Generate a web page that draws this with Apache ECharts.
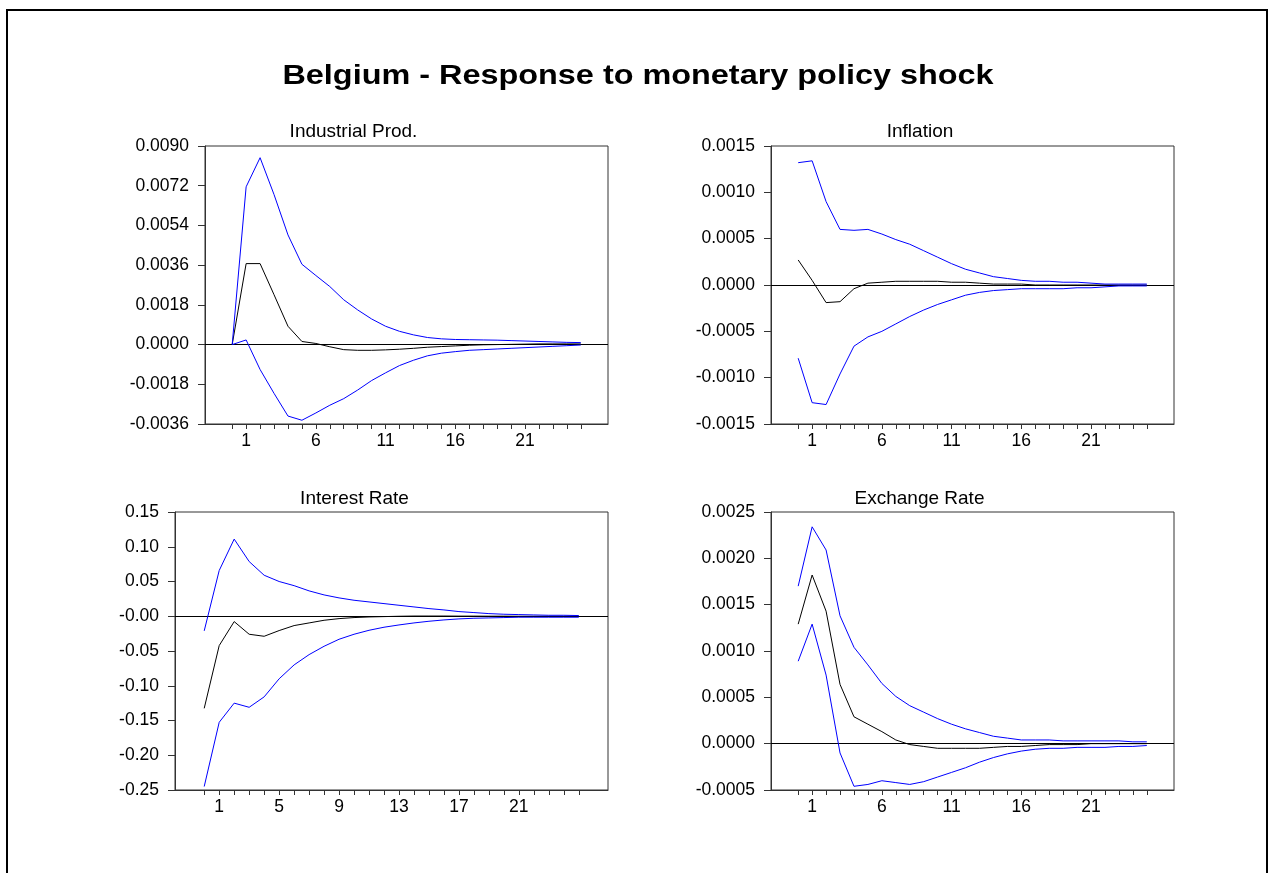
<!DOCTYPE html>
<html>
<head>
<meta charset="utf-8">
<script src="https://cdn.jsdelivr.net/npm/echarts@6/dist/echarts.min.js"></script>
<style>
html,body{margin:0;padding:0;background:#fff;}
#chart{width:1269px;height:873px;}
</style>
</head>
<body>
<div id="chart"></div>
<script>
// ---------------- DATA ----------------
const mainTitle = 'Belgium - Response to monetary policy shock';
const panelTitles = ['Industrial Prod.', 'Inflation', 'Interest Rate', 'Exchange Rate'];
const periods = [0,1,2,3,4,5,6,7,8,9,10,11,12,13,14,15,16,17,18,19,20,21,22,23,24,25];

const xLabelsA = [1, 6, 11, 16, 21];
const xLabelsB = [1, 5, 9, 13, 17, 21];

const indYLabels = ['-0.0036','-0.0018','0.0000','0.0018','0.0036','0.0054','0.0072','0.0090'];
const infYLabels = ['-0.0015','-0.0010','-0.0005','0.0000','0.0005','0.0010','0.0015'];
const irYLabels  = ['-0.25','-0.20','-0.15','-0.10','-0.05','-0.00','0.05','0.10','0.15'];
const exYLabels  = ['-0.0005','0.0000','0.0005','0.0010','0.0015','0.0020','0.0025'];

// Industrial production
const indUpper = [0, 0.00715, 0.00847, 0.0068, 0.00497, 0.00364, 0.00313, 0.00263, 0.00203, 0.00157, 0.00116, 0.00083, 0.0006, 0.00044, 0.00032, 0.00026, 0.00023, 0.00022, 0.00021, 0.0002, 0.00018, 0.00016, 0.00014, 0.00012, 0.0001, 0.00009];
const indMid   = [0, 0.00367, 0.00367, 0.00226, 0.00083, 0.00014, 0.00005, -0.0001, -0.00023, -0.00026, -0.00026, -0.00024, -0.00021, -0.00017, -0.00012, -0.00009, -0.00006, -0.00003, -0.00001, 0, 0.00001, 0.00002, 0.00003, 0.00003, 0.00003, 0.00003];
const indLower = [0, 0.00021, -0.00113, -0.00221, -0.00324, -0.00343, -0.0031, -0.00275, -0.00245, -0.00206, -0.00163, -0.00128, -0.00095, -0.00071, -0.00051, -0.00039, -0.00032, -0.00026, -0.00023, -0.0002, -0.00017, -0.00014, -0.00011, -0.00008, -0.00005, -0.00002];

// Inflation
const infUpper = [0.00132, 0.00134, 0.0009, 0.0006, 0.00059, 0.0006, 0.00055, 0.00049, 0.00044, 0.00037, 0.0003, 0.00023, 0.00017, 0.00013, 0.00009, 0.00007, 0.00005, 0.00004, 0.00004, 0.00003, 0.00003, 0.00002, 0.00001, 0.00001, 0.00001, 0.00001];
const infMid   = [0.00027, 0.00005, -0.00019, -0.00018, -0.00004, 0.00002, 0.00003, 0.00004, 0.00004, 0.00004, 0.00004, 0.00003, 0.00003, 0.00002, 0.00001, 0.00001, 0.00001, 0, 0, 0, 0, 0, 0, 0, 0, 0];
const infLower = [-0.00079, -0.00127, -0.00129, -0.00096, -0.00066, -0.00056, -0.0005, -0.00042, -0.00034, -0.00027, -0.00021, -0.00016, -0.00011, -0.00008, -0.00006, -0.00005, -0.00004, -0.00004, -0.00004, -0.00004, -0.00003, -0.00003, -0.00002, -0.00001, -0.00001, -0.00001];

// Interest rate
const irUpper = [-0.021, 0.0658, 0.111, 0.0787, 0.059, 0.05, 0.044, 0.0365, 0.0307, 0.0264, 0.023, 0.0206, 0.0182, 0.0158, 0.0134, 0.011, 0.0091, 0.0067, 0.0053, 0.0038, 0.0029, 0.0024, 0.0019, 0.0014, 0.0014, 0.001];
const irMid   = [-0.1325, -0.0422, -0.0077, -0.0259, -0.0288, -0.0206, -0.0134, -0.0096, -0.0058, -0.0034, -0.0019, -0.001, -0.0005, 0, 0.0003, 0.0003, 0.0003, 0.0002, 0.0002, 0.0001, 0.0001, 0, 0, 0, 0, 0];
const irLower = [-0.245, -0.1526, -0.125, -0.131, -0.116, -0.09, -0.07, -0.0552, -0.0432, -0.0331, -0.0259, -0.0202, -0.0158, -0.0125, -0.0096, -0.0072, -0.0053, -0.0038, -0.0029, -0.0024, -0.0019, -0.0014, -0.0014, -0.0014, -0.0014, -0.0014];

// Exchange rate
const exUpper = [0.0017, 0.00234, 0.00209, 0.00138, 0.00104, 0.00085, 0.00065, 0.00051, 0.00041, 0.00034, 0.00027, 0.00021, 0.00016, 0.00012, 0.00008, 0.00006, 0.00004, 0.00004, 0.00004, 0.00003, 0.00003, 0.00003, 0.00003, 0.00003, 0.00002, 0.00002];
const exMid   = [0.00129, 0.00182, 0.00143, 0.00064, 0.00029, 0.00021, 0.00013, 0.00004, -0.00001, -0.00003, -0.00005, -0.00005, -0.00005, -0.00005, -0.00004, -0.00003, -0.00003, -0.00002, -0.00001, -0.00001, -0.00001, 0, 0, 0, 0, 0];
const exLower = [0.00089, 0.00129, 0.00074, -0.0001, -0.00046, -0.00044, -0.0004, -0.00042, -0.00044, -0.00041, -0.00036, -0.00031, -0.00026, -0.0002, -0.00015, -0.00011, -0.00008, -0.00006, -0.00005, -0.00005, -0.00004, -0.00004, -0.00004, -0.00003, -0.00003, -0.00002];

// ---------------- LAYOUT ----------------
const FONT = '"Liberation Sans", Arial, sans-serif';
const panels = [
  {grid:{left:205, top:146, width:403, height:278}, yMin:-0.0036, yMax:0.009, yInt:0.0018, yLabels:indYLabels, xLabels:xLabelsA, up:indUpper, mid:indMid, low:indLower, tx:353.5, ty:132},
  {grid:{left:771, top:146, width:403, height:278}, yMin:-0.0015, yMax:0.0015, yInt:0.0005, yLabels:infYLabels, xLabels:xLabelsA, up:infUpper, mid:infMid, low:infLower, tx:920, ty:132},
  {grid:{left:175, top:512, width:433, height:278}, yMin:-0.25, yMax:0.15, yInt:0.05, yLabels:irYLabels, xLabels:xLabelsB, up:irUpper, mid:irMid, low:irLower, tx:354.5, ty:499},
  {grid:{left:771, top:512, width:403, height:278}, yMin:-0.0005, yMax:0.0025, yInt:0.0005, yLabels:exYLabels, xLabels:xLabelsA, up:exUpper, mid:exMid, low:exLower, tx:919.5, ty:499}
];

const pairs = (vals) => periods.map((p, i) => [p, vals[i]]);
const axisColor = '#333';
const TICK_FS = 17.5;

const option = {
  animation: false,
  backgroundColor: '#fff',
  grid: [], xAxis: [], yAxis: [], series: [],
  graphic: [
    {type:'rect', silent:true, shape:{x:7, y:10, width:1260, height:900}, style:{fill:'none', stroke:'#000', lineWidth:2}},
    {type:'text', silent:true, x:638, y:77, scaleX:1.2,
      style:{text:mainTitle, font:'bold 27px ' + FONT, fill:'#000', textAlign:'center', textVerticalAlign:'middle', align:'center', verticalAlign:'middle'}}
  ]
};

panels.forEach((p, k) => {
  option.grid.push(Object.assign({show:true, borderColor:axisColor, borderWidth:1, backgroundColor:'transparent'}, p.grid));
  option.xAxis.push({
    type:'value', gridIndex:k, min:-1.95, max:26.95,
    axisLine:{show:true, onZero:false, lineStyle:{color:axisColor, width:1}},
    axisTick:{show:true, inside:false, length:5, customValues:periods, lineStyle:{color:axisColor}},
    axisLabel:{show:true, customValues:p.xLabels, margin:8, color:'#000', fontSize:TICK_FS, fontFamily:FONT, formatter:(v)=>String(v)},
    splitLine:{show:false}
  });
  const labels = p.yLabels;
  option.yAxis.push({
    type:'value', gridIndex:k, min:p.yMin, max:p.yMax, interval:p.yInt,
    axisLine:{show:true, onZero:false, lineStyle:{color:axisColor, width:1}},
    axisTick:{show:true, inside:false, length:7, lineStyle:{color:axisColor}},
    axisLabel:{show:true, margin:16, color:'#000', fontSize:TICK_FS, fontFamily:FONT,
      formatter:(v)=>labels[Math.round((v - p.yMin)/p.yInt)] || ''},
    splitLine:{show:false}
  });
  option.series.push({
    type:'line', xAxisIndex:k, yAxisIndex:k, data:pairs(p.mid), showSymbol:false, symbol:'none',
    lineStyle:{color:'#000', width:1}, z:3,
    markLine:{silent:true, symbol:['none','none'], label:{show:false}, lineStyle:{color:'#000', width:1, type:'solid'},
      data:[{yAxis:0}], z:2}
  });
  option.series.push({type:'line', xAxisIndex:k, yAxisIndex:k, data:pairs(p.up), showSymbol:false, symbol:'none', lineStyle:{color:'#0000ff', width:1}, z:4});
  option.series.push({type:'line', xAxisIndex:k, yAxisIndex:k, data:pairs(p.low), showSymbol:false, symbol:'none', lineStyle:{color:'#0000ff', width:1}, z:4});
  option.graphic.push({type:'text', silent:true, x:p.tx, y:p.ty,
    style:{text:panelTitles[k], font:'19px ' + FONT, fill:'#000', textAlign:'center', textVerticalAlign:'middle', align:'center', verticalAlign:'middle'}});
});

const chart = echarts.init(document.getElementById('chart'), null, {renderer:'canvas'});
chart.setOption(option);
</script>
</body>
</html>
